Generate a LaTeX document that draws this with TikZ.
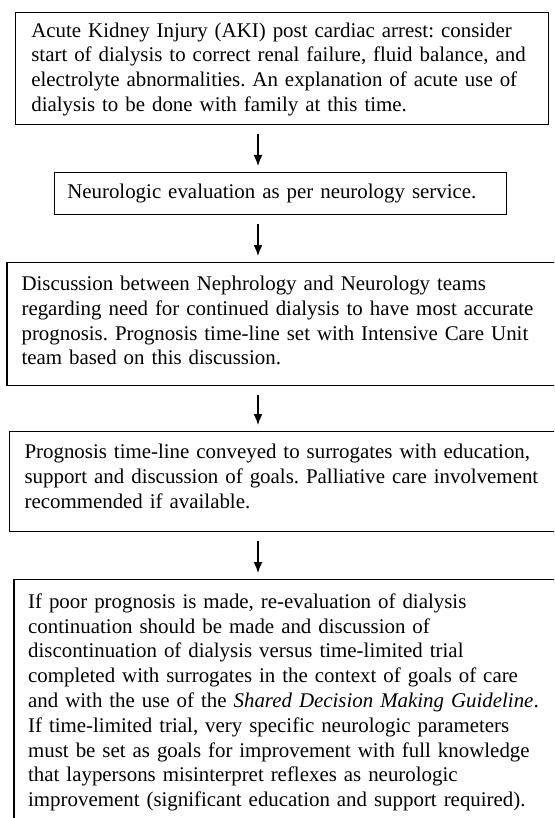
\documentclass[tikz,border=0pt]{standalone}
\usepackage{fontspec}
\setmainfont{Liberation Serif}
\frenchspacing
\usetikzlibrary{arrows.meta}

\begin{document}
\begin{tikzpicture}[x=1pt, y=1pt,
  every node/.style={draw, line width=1.1pt, align=left, anchor=north west, inner ysep=0pt,
    font=\fontsize{20.9}{24.8}\selectfont},
  flow/.style={-{Latex[length=11pt,width=9pt]}, line width=1.5pt, shorten <=9pt, shorten >=6pt}]
  % Page frame
  \useasboundingbox (0,0) rectangle (554,-818);
  \clip (0,0) rectangle (554,-818);

  % Define node coordinates explicitly
  \node (AKI) at (14.8,-12) [inner xsep=16pt, text width=501pt, text height=24.5pt, text depth=87.5pt]
    {Acute Kidney Injury (AKI) post cardiac arrest: consider\\
     start of dialysis to correct renal failure, fluid balance, and\\
     electrolyte abnormalities. An explanation of acute use of\\
     dialysis to be done with family at this time.};
  \node (Neuro) at (53.7,-172) [inner xsep=13pt, text width=426pt, text height=26pt, text depth=16pt]
    {Neurologic evaluation as per neurology service.};
  \node (Teams) at (6.4,-262) [inner xsep=14.6pt, text width=580pt, text height=28pt, text depth=95pt]
    {Discussion between Nephrology and Neurology teams\\
     regarding need for continued dialysis to have most accurate\\
     prognosis. Prognosis time-line set with Intensive Care Unit\\
     team based on this discussion.};
  \node (Surrogates) at (9.2,-431) [inner xsep=14.8pt, text width=580pt, text height=27pt, text depth=73pt]
    {Prognosis time-line conveyed to surrogates with education,\\
     support and discussion of goals. Palliative care involvement\\
     recommended if available.};
  \node (Trial) at (13.4,-579) [inner xsep=14.2pt, text width=580pt, text height=28.7pt, text depth=225pt]
    {If poor prognosis is made, re-evaluation of dialysis\\
     continuation should be made and discussion of\\
     discontinuation of dialysis versus time-limited trial\\
     completed with surrogates in the context of goals of care\\
     and with the use of the \textit{Shared Decision Making Guideline}.\\
     If time-limited trial, very specific neurologic parameters\\
     must be set as goals for improvement with full knowledge\\
     that laypersons misinterpret reflexes as neurologic\\
     improvement (significant education and support required).};

  \coordinate (axis) at (258,0);

  % Arrows
  \draw[flow] (AKI.south -| axis) -- (Neuro.north -| axis);
  \draw[flow] (Neuro.south -| axis) -- (Teams.north -| axis);
  \draw[flow] (Teams.south -| axis) -- (Surrogates.north -| axis);
  \draw[flow] (Surrogates.south -| axis) -- (Trial.north -| axis);
\end{tikzpicture}
\end{document}
